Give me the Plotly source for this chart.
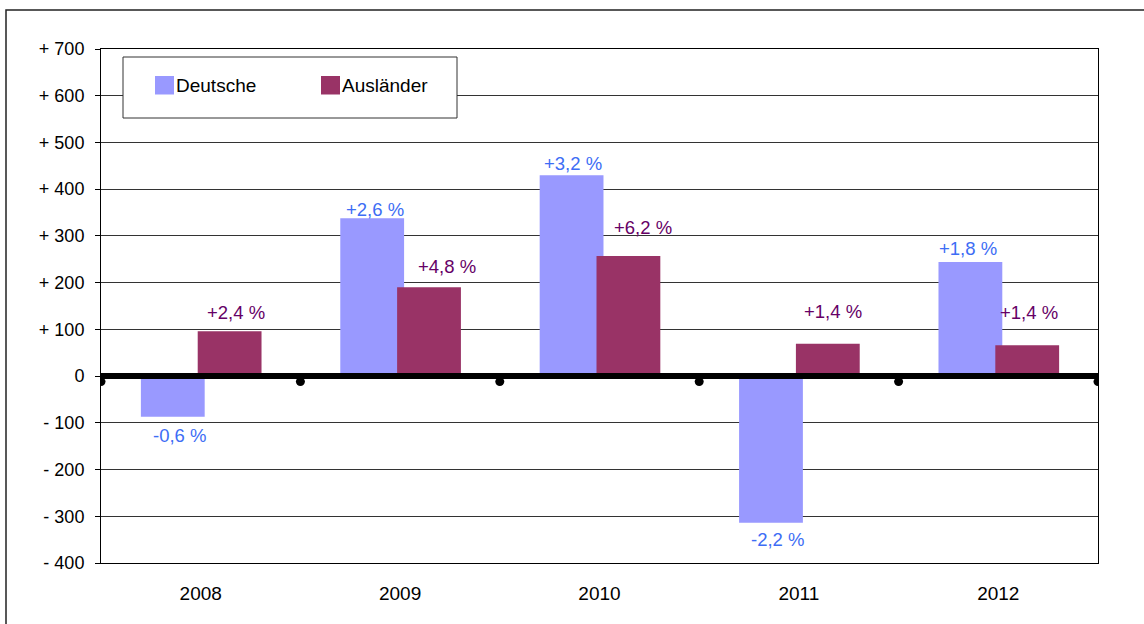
import plotly.graph_objects as go

# Wanderungssaldo nach Staatsangehörigkeit
years = ["2008", "2009", "2010", "2011", "2012"]
deutsche = [-87, 338, 430, -314, 244]
auslaender = [96, 190, 257, 69, 66]
deutsche_pct = ["-0,6 %", "+2,6 %", "+3,2 %", "-2,2 %", "+1,8 %"]
auslaender_pct = ["+2,4 %", "+4,8 %", "+6,2 %", "+1,4 %", "+1,4 %"]
y_ticks = [700, 600, 500, 400, 300, 200, 100, 0, -100, -200, -300, -400]
y_ticktext = ["+ 700", "+ 600", "+ 500", "+ 400", "+ 300", "+ 200", "+ 100", "0",
              "- 100", "- 200", "- 300", "- 400"]

# label nudges in pixels (x right, y up) relative to the bar end
deutsche_xshift = [7, 3, 1, 7, -2]
deutsche_yshift = [-19, 9, 12, -17, 14]
auslaender_xshift = [6, 18, 15, 5, 2]
auslaender_yshift = [19, 21, 29, 32, 33]

C_DE = "#9999FF"
C_AU = "#993366"
C_DE_TXT = "#3D6DF5"
C_AU_TXT = "#660066"
FONT = "Liberation Sans, Arial, sans-serif"

W, H = 1144, 624
ML, MR, MT, MB = 101, 46, 49, 61
PW, PH = W - ML - MR, H - MT - MB


def px_x(px):
    return (px - ML) / PW


def px_y(py):
    return (H - MB - py) / PH


x = list(range(len(years)))
BAR_W = 0.32
DE_OFF = -0.30
AU_OFF = -0.015

fig = go.Figure()
fig.add_bar(x=x, y=deutsche, width=BAR_W, offset=DE_OFF, marker_color=C_DE,
            marker_line_width=0, name="Deutsche", showlegend=False)
fig.add_bar(x=x, y=auslaender, width=BAR_W, offset=AU_OFF, marker_color=C_AU,
            marker_line_width=0, name="Ausländer", showlegend=False)

annotations = []
for i in x:
    annotations.append(dict(
        x=i + DE_OFF + BAR_W / 2, y=deutsche[i], xref="x", yref="y",
        text=deutsche_pct[i], showarrow=False, xanchor="center", yanchor="middle",
        xshift=deutsche_xshift[i], yshift=deutsche_yshift[i],
        font=dict(family=FONT, size=18.5, color=C_DE_TXT)))
    annotations.append(dict(
        x=i + AU_OFF + BAR_W / 2, y=auslaender[i], xref="x", yref="y",
        text=auslaender_pct[i], showarrow=False, xanchor="center", yanchor="middle",
        xshift=auslaender_xshift[i], yshift=auslaender_yshift[i],
        font=dict(family=FONT, size=18.5, color=C_AU_TXT)))

shapes = []
# outer frame of the chart
shapes.append(dict(type="rect", xref="paper", yref="paper",
                   x0=px_x(6), x1=px_x(W + 20), y0=px_y(H + 20), y1=px_y(10),
                   line=dict(color="#222222", width=1.5), fillcolor="rgba(0,0,0,0)",
                   layer="below"))
# heavy zero line with category separators
shapes.append(dict(type="line", xref="x", yref="y", x0=-0.5, x1=len(years) - 0.5,
                   y0=0, y1=0, line=dict(color="black", width=6), layer="above"))
for b in range(len(years) + 1):
    shapes.append(dict(type="circle", xref="x", yref="y", xsizemode="pixel",
                       ysizemode="pixel", xanchor=b - 0.5, yanchor=0,
                       x0=-4.5, x1=4.5, y0=-10, y1=-1, fillcolor="black",
                       line=dict(color="black", width=0), layer="above"))

# legend box
shapes.append(dict(type="rect", xref="paper", yref="paper",
                   x0=px_x(123), x1=px_x(457), y0=px_y(118), y1=px_y(57),
                   line=dict(color="#333333", width=1), fillcolor="white", layer="above"))
legend_items = [("Deutsche", C_DE, 155), ("Ausländer", C_AU, 321)]
for name, col, lx in legend_items:
    shapes.append(dict(type="rect", xref="paper", yref="paper",
                       x0=px_x(lx), x1=px_x(lx + 19), y0=px_y(94.5), y1=px_y(76),
                       line=dict(width=0), fillcolor=col, layer="above"))
    annotations.append(dict(x=px_x(lx + 19), y=px_y(86), xref="paper", yref="paper",
                            text=name, showarrow=False, xanchor="left", yanchor="middle",
                            font=dict(family=FONT, size=19, color="black")))

fig.update_layout(
    width=W, height=H,
    margin=dict(l=ML, r=MR, t=MT, b=MB),
    paper_bgcolor="white", plot_bgcolor="white",
    barmode="overlay", showlegend=False,
    shapes=shapes, annotations=annotations,
    font=dict(family=FONT, size=18, color="black"),
)
fig.update_xaxes(
    range=[-0.5, len(years) - 0.5], tickvals=x, ticktext=years,
    ticks="", showgrid=False, zeroline=False,
    showline=True, linecolor="black", linewidth=1, mirror=True,
    tickfont=dict(family=FONT, size=19, color="black"), ticklabelstandoff=13,
)
fig.update_yaxes(
    range=[-400, 700], tickvals=y_ticks, ticktext=y_ticktext,
    ticks="outside", ticklen=5, tickcolor="black", tickwidth=1,
    showgrid=True, gridcolor="#333333", gridwidth=1, zeroline=False,
    showline=True, linecolor="black", linewidth=1, mirror=True,
    tickfont=dict(family=FONT, size=18, color="black"), ticklabelstandoff=7,
)

fig.write_html("out.html")
